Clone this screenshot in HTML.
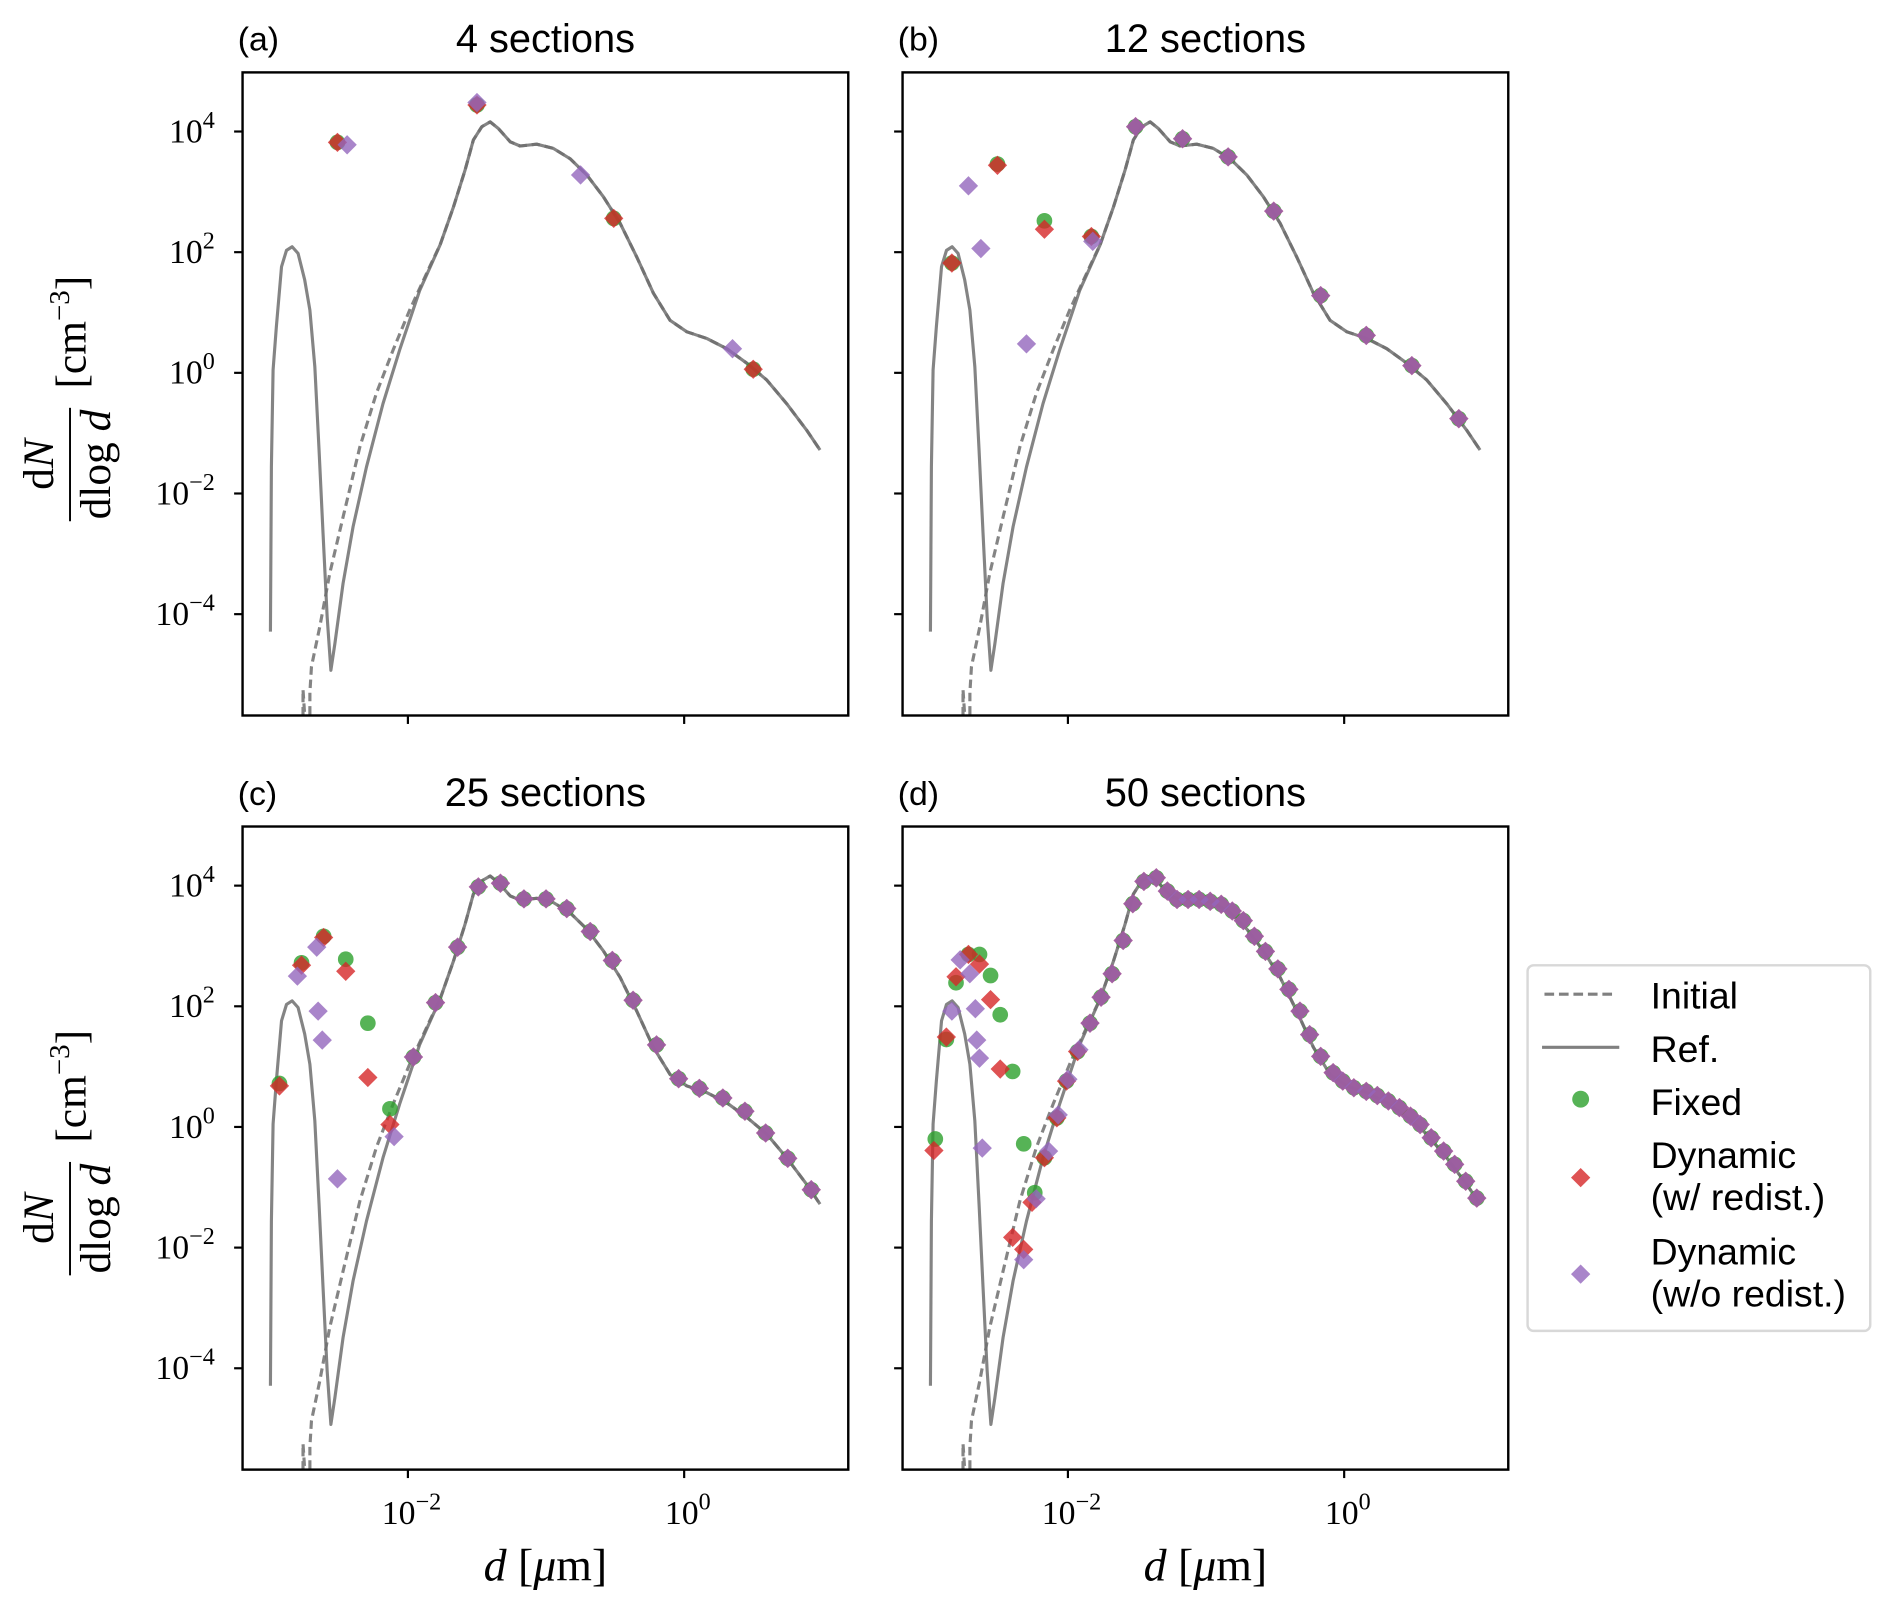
<!DOCTYPE html>
<html><head><meta charset="utf-8">
<style>
html,body{margin:0;padding:0;background:#fff;}
svg{display:block;}
.sans{font-family:"Liberation Sans","DejaVu Sans",sans-serif;}
.serif{font-family:"Liberation Serif","DejaVu Serif",serif;}
</style></head>
<body>
<svg id="fig" width="1892" height="1612" viewBox="0 0 1568 1336" xmlns="http://www.w3.org/2000/svg"></svg>
<script>
// ---------- shared curve data (log10 d [um], log10 dN/dlogd) ----------
const refLogD = [-2.995,-2.988,-2.976,-2.952,-2.915,-2.879,-2.838,-2.795,-2.747,-2.710,-2.674,-2.643,-2.614,-2.585,-2.558,-2.529,-2.469,-2.397,-2.30,-2.18,-2.06,-1.914,-1.767,-1.67,-1.586,-1.526,-1.465,-1.405,-1.345,-1.26,-1.188,-1.067,-0.947,-0.826,-0.705,-0.585,-0.464,-0.343,-0.223,-0.102,0.019,0.163,0.308,0.453,0.598,0.742,0.887,0.984];
const refLogN = [-4.29,-1.56,0.05,0.76,1.76,2.03,2.09,1.98,1.54,1.04,0.10,-1.28,-2.66,-4.04,-4.93,-4.49,-3.49,-2.55,-1.56,-0.51,0.38,1.37,2.12,2.75,3.36,3.86,4.08,4.16,4.05,3.83,3.76,3.79,3.72,3.55,3.28,2.92,2.48,1.92,1.32,0.87,0.68,0.57,0.40,0.16,-0.12,-0.51,-0.95,-1.28];
const initLogD = [-2.759,-2.759,-2.71,-2.71,-2.698,-2.638,-2.566,-2.469,-2.348,-2.228,-2.107,-1.987,-1.842,-1.767,-1.67,-1.586,-1.526,-1.465,-1.405,-1.345,-1.26,-1.188,-1.067,-0.947,-0.826,-0.705,-0.585,-0.464,-0.343,-0.223,-0.102,0.019,0.163,0.308,0.453,0.598,0.742,0.887,0.984];
const initLogN = [-7,-5.25,-7,-5.3,-4.87,-4.21,-3.33,-2.39,-1.23,-0.34,0.38,1.04,1.76,2.12,2.75,3.36,3.86,4.08,4.16,4.05,3.83,3.76,3.79,3.72,3.55,3.28,2.92,2.48,1.92,1.32,0.87,0.68,0.57,0.40,0.16,-0.12,-0.51,-0.95,-1.28];

// ---------- panel (a): 4 sections ----------
const aFixedD = [-2.51,-1.50,-0.51,0.50];
const aFixedN = [3.82,4.44,2.56,0.06];
const aRedD = [-2.51,-1.50,-0.51,0.50];
const aRedN = [3.82,4.44,2.56,0.06];
const aPurD = [-2.44,-1.50,-0.75,0.35];
const aPurN = [3.78,4.48,3.28,0.40];

// ---------- panel (b): 12 sections ----------
const bFixedD = [-2.84,-2.51,-2.17,-1.83,-1.51,-1.17,-0.84,-0.51,-0.17,0.16,0.49,0.83];
const bFixedN = [1.82,3.46,2.52,2.26,4.08,3.88,3.58,2.68,1.28,0.62,0.12,-0.76];
const bRedD = [-2.84,-2.51,-2.17,-1.83,-1.51,-1.17,-0.84,-0.51,-0.17,0.16,0.49,0.83];
const bRedN = [1.82,3.44,2.38,2.26,4.08,3.88,3.58,2.68,1.28,0.62,0.12,-0.76];
const bPurD = [-2.72,-2.63,-2.30,-1.82,-1.51,-1.17,-0.84,-0.51,-0.17,0.16,0.49,0.83];
const bPurN = [3.10,2.06,0.48,2.18,4.08,3.88,3.58,2.68,1.28,0.62,0.12,-0.76];

// ---------- panel (c): 25 sections ----------
const cRedD = [-2.93,-2.77,-2.61,-2.45,-2.29,-2.13,-1.96,-1.80,-1.64,-1.49,-1.33,-1.16,-1.00,-0.85,-0.68,-0.52,-0.37,-0.20,-0.04,0.11,0.28,0.44,0.59,0.75,0.92];
const cRedN = [0.68,2.68,3.14,2.58,0.82,0.04,1.16,2.06,2.98,3.98,4.04,3.78,3.78,3.62,3.24,2.76,2.10,1.36,0.80,0.64,0.48,0.26,-0.10,-0.52,-1.04];
const cFixedD = [-2.93,-2.77,-2.61,-2.45,-2.29,-2.13,-1.96,-1.80,-1.64,-1.49,-1.33,-1.16,-1.00,-0.85,-0.68,-0.52,-0.37,-0.20,-0.04,0.11,0.28,0.44,0.59,0.75,0.92];
const cFixedN = [0.72,2.72,3.16,2.78,1.72,0.30,1.16,2.06,2.98,3.98,4.04,3.78,3.78,3.62,3.24,2.76,2.10,1.36,0.80,0.64,0.48,0.26,-0.10,-0.52,-1.04];
const cPurD = [-2.80,-2.66,-2.65,-2.62,-2.51,-2.10,-1.96,-1.80,-1.64,-1.49,-1.33,-1.16,-1.00,-0.85,-0.68,-0.52,-0.37,-0.20,-0.04,0.11,0.28,0.44,0.59,0.75,0.92];
const cPurN = [2.50,2.98,1.92,1.44,-0.86,-0.16,1.16,2.06,2.98,3.98,4.04,3.78,3.78,3.62,3.24,2.76,2.10,1.36,0.80,0.64,0.48,0.26,-0.10,-0.52,-1.04];

// ---------- panel (d): 50 sections ----------
const dMainD = [-1.45,-1.36,-1.28,-1.21,-1.13,-1.05,-0.97,-0.89,-0.81,-0.73,-0.65,-0.57,-0.48,-0.40,-0.32,-0.25,-0.17,-0.08,-0.01,0.07,0.16,0.24,0.32,0.40,0.48,0.55,0.63,0.72,0.80,0.88,0.96];
const dMainN = [4.07,4.13,3.91,3.77,3.77,3.77,3.74,3.69,3.58,3.42,3.16,2.91,2.62,2.28,1.92,1.53,1.17,0.90,0.76,0.65,0.59,0.52,0.43,0.32,0.18,0.04,-0.18,-0.40,-0.62,-0.90,-1.18];
const dRedEarlyD = [-2.97,-2.88,-2.81,-2.72,-2.64,-2.56,-2.49,-2.40,-2.32,-2.26,-2.17,-2.08,-2.01,-1.93,-1.84,-1.76,-1.68,-1.60,-1.53];
const dRedEarlyN = [-0.39,1.49,2.49,2.86,2.70,2.11,0.96,-1.83,-2.03,-1.25,-0.51,0.15,0.76,1.25,1.72,2.15,2.54,3.09,3.70];
const dFixedEarlyD = [-2.96,-2.88,-2.81,-2.72,-2.64,-2.56,-2.49,-2.40,-2.32,-2.24,-2.17,-2.08,-2.01,-1.93,-1.84,-1.76,-1.68,-1.60,-1.53];
const dFixedEarlyN = [-0.20,1.45,2.39,2.86,2.86,2.51,1.86,0.92,-0.28,-1.09,-0.51,0.15,0.76,1.25,1.72,2.15,2.54,3.09,3.70];
const dPurEarlyD = [-2.84,-2.78,-2.71,-2.67,-2.66,-2.64,-2.62,-2.32,-2.23,-2.14,-2.07,-2.00,-1.92,-1.84,-1.76,-1.68,-1.60,-1.53];
const dPurEarlyN = [1.92,2.77,2.54,1.96,1.44,1.14,-0.35,-2.20,-1.19,-0.40,0.20,0.79,1.28,1.72,2.15,2.54,3.09,3.70];

const yTickExp = [4,2,0,-2,-4];
const xTickExp = [-2,0];
const xMin = -3.197, xMax = 1.188, yMin = -5.68, yMax = 4.98;

const NS = 'http://www.w3.org/2000/svg';
const svg = document.getElementById('fig');
function mk(tag, attrs, parent){
  const e = document.createElementNS(NS, tag);
  for (const k in attrs) e.setAttribute(k, attrs[k]);
  (parent||svg).appendChild(e);
  return e;
}
const W = 502, H = 533;
const panels = [
  {key:'a', label:'(a)', title:'4 sections', x0:201, y0:60, ylab:true, xlab:false,
   fx:aFixedD, fy:aFixedN, rx:aRedD, ry:aRedN, px:aPurD, py:aPurN},
  {key:'b', label:'(b)', title:'12 sections', x0:748, y0:60, ylab:false, xlab:false,
   fx:bFixedD, fy:bFixedN, rx:bRedD, ry:bRedN, px:bPurD, py:bPurN},
  {key:'c', label:'(c)', title:'25 sections', x0:201, y0:685, ylab:true, xlab:true,
   fx:cFixedD, fy:cFixedN, rx:cRedD, ry:cRedN, px:cPurD, py:cPurN},
  {key:'d', label:'(d)', title:'50 sections', x0:748, y0:685, ylab:false, xlab:true,
   fx:dFixedEarlyD.concat(dMainD), fy:dFixedEarlyN.concat(dMainN),
   rx:dRedEarlyD.concat(dMainD), ry:dRedEarlyN.concat(dMainN),
   px:dPurEarlyD.concat(dMainD), py:dPurEarlyN.concat(dMainN)}
];

panels.forEach(p => {
  const sx = v => p.x0 + (v - xMin) / (xMax - xMin) * W;
  const sy = v => p.y0 + (yMax - v) / (yMax - yMin) * H;
  const g = mk('g', {});
  
  
  const cp = mk('clipPath', {id:'clip-'+p.key}, g);
  mk('rect', {x:p.x0, y:p.y0, width:W, height:H}, cp);

  const lab = mk('text', {x:p.x0-4, y:p.y0-18, 'font-size':28, class:'sans', fill:'#000'}, g);
  lab.textContent = p.label;
  
  
  const tt = mk('text', {x:p.x0+W/2, y:p.y0-17, 'font-size':33, class:'sans', 'text-anchor':'middle', fill:'#000'}, g);
  tt.textContent = p.title;
  
  

  const path = (xs, ys) => xs.map((v,i)=>(i?'L':'M')+sx(v).toFixed(1)+','+sy(ys[i]).toFixed(1)).join(' ');
  const init = mk('path', {d:path(initLogD, initLogN), fill:'none', stroke:'#6f6f6f', 'stroke-width':2.6, 'stroke-dasharray':'7,4', 'stroke-opacity':0.85, 'stroke-linejoin':'round', 'clip-path':'url(#clip-'+p.key+')'}, g);
  
  
  const ref = mk('path', {d:path(refLogD, refLogN), fill:'none', stroke:'#6f6f6f', 'stroke-width':2.6, 'stroke-opacity':0.85, 'stroke-linejoin':'round', 'clip-path':'url(#clip-'+p.key+')'}, g);
  
  

  p.fx.forEach((v,i) => {
    const c = mk('circle', {cx:sx(v), cy:sy(p.fy[i]), r:6.5, fill:'#2ca02c', 'fill-opacity':0.8, 'clip-path':'url(#clip-'+p.key+')'}, g);
    
    
  });
  const dia = (x,y,col,name) => {
    const s = 8;
    const e = mk('polygon', {points:`${x},${y-s} ${x+s},${y} ${x},${y+s} ${x-s},${y}`, fill:col, 'fill-opacity':0.8, 'clip-path':'url(#clip-'+p.key+')'}, g);
    
    
  };
  p.rx.forEach((v,i) => dia(sx(v), sy(p.ry[i]), '#d62728', 'dynamic-redist-point'));
  p.px.forEach((v,i) => dia(sx(v), sy(p.py[i]), '#9467bd', 'dynamic-noredist-point'));

  const fr = mk('rect', {x:p.x0, y:p.y0, width:W, height:H, fill:'none', stroke:'#000', 'stroke-width':2}, g);
  
  

  yTickExp.forEach(e => {
    const y = sy(e);
    const t = mk('line', {x1:p.x0-7, x2:p.x0, y1:y, y2:y, stroke:'#000', 'stroke-width':1.8}, g);
    
    
    if (p.ylab) {
      const tx = mk('text', {x:p.x0-22, y:y+9, 'text-anchor':'end', 'font-size':28, class:'serif', fill:'#000'}, g);
      
      
      const a = mk('tspan', {}, tx); a.textContent = '10';
      const b = mk('tspan', {dy:-12, 'font-size':20}, tx); b.textContent = String(e).replace('-', '\u2212');
      tx.setAttribute('x', p.x0 - 23 + (e < 0 ? 0 : 0));
      tx.setAttribute('text-anchor', 'end');
    }
  });
  xTickExp.forEach(e => {
    const x = sx(e);
    const t = mk('line', {x1:x, x2:x, y1:p.y0+H, y2:p.y0+H+7, stroke:'#000', 'stroke-width':1.8}, g);
    
    
    if (p.xlab) {
      const tx = mk('text', {x:x+3, y:p.y0+H+45, 'text-anchor':'middle', 'font-size':28, class:'serif', fill:'#000'}, g);
      
      
      const a = mk('tspan', {}, tx); a.textContent = '10';
      const b = mk('tspan', {dy:-12, 'font-size':20}, tx); b.textContent = String(e).replace('-', '\u2212');
    }
  });
  if (p.xlab) {
    const xl = mk('text', {x:p.x0+W/2, y:p.y0+H+92, 'text-anchor':'middle', 'font-size':38, class:'serif', fill:'#000'}, g);
    
    
    const a = mk('tspan', {'font-style':'italic'}, xl); a.textContent = 'd';
    const b = mk('tspan', {}, xl); b.textContent = ' [';
    const c = mk('tspan', {'font-style':'italic'}, xl); c.textContent = 'μ';
    const d = mk('tspan', {}, xl); d.textContent = 'm]';
  }
  if (p.ylab) {
    const cy = p.y0 + 320;
    const yg = mk('g', {transform:`translate(58,${cy}) rotate(-90)`}, g);
    
    
    const num = mk('text', {x:-5, y:-14, 'text-anchor':'middle', 'font-size':36, class:'serif'}, yg);
    const n1 = mk('tspan', {}, num); n1.textContent = 'd';
    const n2 = mk('tspan', {'font-style':'italic'}, num); n2.textContent = 'N';
    mk('line', {x1:-52, x2:42, y1:0, y2:0, stroke:'#000', 'stroke-width':1.6}, yg);
    const den = mk('text', {x:-5, y:33, 'text-anchor':'middle', 'font-size':36, class:'serif'}, yg);
    const d1 = mk('tspan', {}, den); d1.textContent = 'dlog ';
    const d2 = mk('tspan', {'font-style':'italic'}, den); d2.textContent = 'd';
    const un = mk('text', {x:58, y:13, 'font-size':36, class:'serif'}, yg);
    const u1 = mk('tspan', {}, un); u1.textContent = '[cm';
    const u2 = mk('tspan', {dy:-14, 'font-size':24}, un); u2.textContent = '\u22123';
    const u3 = mk('tspan', {dy:14}, un); u3.textContent = ']';
  }
});

// ---------- legend ----------
const lg = mk('g', {});


mk('rect', {x:1266, y:800, width:284, height:303, rx:5, fill:'#fff', stroke:'#d8d8d8', 'stroke-width':2}, lg);
const lt = (txt, y) => {
  const t = mk('text', {x:1368, y:y, 'font-size':31, class:'sans', fill:'#000'}, lg);
  t.textContent = txt;
  
  
};
const l1 = mk('line', {x1:1280, x2:1340, y1:824, y2:824, stroke:'#808080', 'stroke-width':2.6, 'stroke-dasharray':'8,4'}, lg);


lt('Initial', 836);
const l2 = mk('line', {x1:1278, x2:1342, y1:868, y2:868, stroke:'#808080', 'stroke-width':2.6}, lg);


lt('Ref.', 880);
const l3 = mk('circle', {cx:1310, cy:911, r:7, fill:'#2ca02c', 'fill-opacity':0.8}, lg);


lt('Fixed', 924);
const l4 = mk('polygon', {points:'1310,968 1318,976 1310,984 1302,976', fill:'#d62728', 'fill-opacity':0.8}, lg);


lt('Dynamic', 968); lt('(w/ redist.)', 1003);
const l5 = mk('polygon', {points:'1310,1048 1318,1056 1310,1064 1302,1056', fill:'#9467bd', 'fill-opacity':0.8}, lg);


lt('Dynamic', 1048); lt('(w/o redist.)', 1083);
</script>
</body></html>
